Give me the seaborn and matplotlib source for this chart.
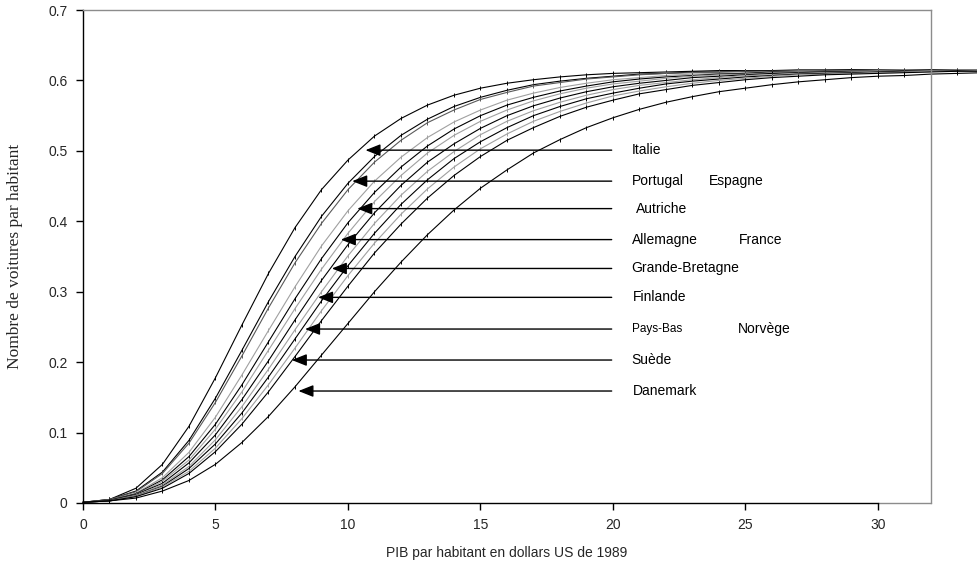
import matplotlib
matplotlib.use("Agg")
import matplotlib.pyplot as plt
import pandas as pd
import seaborn as sns

# PIB par habitant (milliers de dollars US de 1989)
pib = list(range(0, 35))

italie = [0.001, 0.005, 0.021, 0.055, 0.109, 0.178, 0.253, 0.326, 0.391, 0.445,
          0.487, 0.521, 0.546, 0.565, 0.579, 0.589, 0.596, 0.601, 0.605, 0.608,
          0.610, 0.611, 0.612, 0.613, 0.614, 0.614, 0.614, 0.615, 0.615, 0.615,
          0.615, 0.615, 0.615, 0.615, 0.615]
portugal = [0.001, 0.005, 0.017, 0.044, 0.089, 0.149, 0.217, 0.286, 0.350, 0.407,
            0.454, 0.492, 0.522, 0.545, 0.563, 0.576, 0.586, 0.594, 0.599, 0.603,
            0.606, 0.609, 0.610, 0.612, 0.612, 0.613, 0.614, 0.614, 0.614, 0.615,
            0.615, 0.615, 0.615, 0.615, 0.615]
espagne = [0.001, 0.005, 0.016, 0.042, 0.085, 0.143, 0.209, 0.277, 0.341, 0.397,
           0.445, 0.484, 0.515, 0.540, 0.558, 0.573, 0.583, 0.592, 0.597, 0.602,
           0.605, 0.608, 0.610, 0.611, 0.612, 0.613, 0.613, 0.614, 0.614, 0.614,
           0.615, 0.615, 0.615, 0.615, 0.615]
autriche = [0.001, 0.004, 0.014, 0.036, 0.072, 0.122, 0.182, 0.245, 0.307, 0.365,
            0.415, 0.457, 0.491, 0.519, 0.541, 0.558, 0.572, 0.582, 0.590, 0.596,
            0.601, 0.604, 0.607, 0.609, 0.610, 0.611, 0.612, 0.613, 0.613, 0.614,
            0.614, 0.615, 0.615, 0.615, 0.615]
allemagne = [0.001, 0.004, 0.013, 0.033, 0.066, 0.112, 0.168, 0.229, 0.290, 0.347,
             0.398, 0.441, 0.477, 0.507, 0.531, 0.550, 0.565, 0.576, 0.585, 0.592,
             0.598, 0.602, 0.605, 0.607, 0.609, 0.610, 0.612, 0.612, 0.613, 0.613,
             0.614, 0.614, 0.615, 0.615, 0.615]
france = [0.001, 0.004, 0.012, 0.031, 0.061, 0.105, 0.158, 0.217, 0.276, 0.332,
          0.383, 0.428, 0.465, 0.497, 0.522, 0.542, 0.558, 0.571, 0.581, 0.589,
          0.595, 0.599, 0.603, 0.606, 0.608, 0.609, 0.611, 0.612, 0.612, 0.613,
          0.614, 0.614, 0.614, 0.615, 0.615]
grande_bretagne = [0.001, 0.004, 0.012, 0.028, 0.057, 0.097, 0.147, 0.202, 0.260, 0.316,
                   0.367, 0.412, 0.451, 0.484, 0.510, 0.532, 0.550, 0.564, 0.575, 0.584,
                   0.591, 0.596, 0.600, 0.604, 0.606, 0.608, 0.610, 0.611, 0.612, 0.613,
                   0.613, 0.614, 0.614, 0.614, 0.614]
finlande = [0.001, 0.003, 0.011, 0.026, 0.052, 0.090, 0.137, 0.190, 0.246, 0.300,
            0.351, 0.397, 0.437, 0.471, 0.499, 0.523, 0.542, 0.557, 0.569, 0.579,
            0.587, 0.593, 0.597, 0.601, 0.604, 0.607, 0.608, 0.610, 0.611, 0.612,
            0.613, 0.613, 0.614, 0.614, 0.614]
pays_bas = [0.001, 0.003, 0.010, 0.024, 0.049, 0.084, 0.128, 0.179, 0.233, 0.287,
            0.337, 0.383, 0.424, 0.459, 0.489, 0.513, 0.533, 0.550, 0.563, 0.574,
            0.582, 0.589, 0.595, 0.599, 0.602, 0.605, 0.607, 0.609, 0.610, 0.611,
            0.612, 0.613, 0.613, 0.614, 0.614]
norvege = [0.001, 0.003, 0.010, 0.023, 0.045, 0.078, 0.120, 0.168, 0.220, 0.273,
           0.323, 0.369, 0.410, 0.446, 0.477, 0.503, 0.524, 0.542, 0.556, 0.568,
           0.578, 0.585, 0.591, 0.596, 0.600, 0.603, 0.606, 0.608, 0.609, 0.610,
           0.611, 0.612, 0.613, 0.613, 0.614]
suede = [0.001, 0.003, 0.009, 0.021, 0.042, 0.073, 0.112, 0.158, 0.208, 0.259,
         0.308, 0.355, 0.396, 0.433, 0.465, 0.492, 0.515, 0.533, 0.549, 0.562,
         0.572, 0.581, 0.587, 0.593, 0.597, 0.601, 0.604, 0.606, 0.608, 0.609,
         0.610, 0.611, 0.612, 0.613, 0.613]
danemark = [0.001, 0.003, 0.007, 0.017, 0.032, 0.055, 0.086, 0.123, 0.165, 0.210,
            0.255, 0.300, 0.342, 0.381, 0.416, 0.447, 0.473, 0.497, 0.516, 0.533,
            0.547, 0.559, 0.569, 0.577, 0.584, 0.589, 0.594, 0.598, 0.601, 0.604,
            0.606, 0.607, 0.609, 0.610, 0.611]

pays = ["Italie", "Portugal", "Espagne", "Autriche", "Allemagne", "France",
        "Grande-Bretagne", "Finlande", "Pays-Bas", "Norvège", "Suède", "Danemark"]
series = [italie, portugal, espagne, autriche, allemagne, france,
          grande_bretagne, finlande, pays_bas, norvege, suede, danemark]

couleurs = {
    "Italie": "#000000", "Portugal": "#000000", "Espagne": "#5a5a5a",
    "Autriche": "#a0a0a0", "Allemagne": "#000000", "France": "#a0a0a0",
    "Grande-Bretagne": "#000000", "Finlande": "#a0a0a0", "Pays-Bas": "#000000",
    "Norvège": "#a0a0a0", "Suède": "#000000", "Danemark": "#000000",
}

# Étiquettes : (texte, x du texte, y de la flèche, x de la pointe)
etiquettes = [
    ("Italie", 20.7, 0.501, 10.66),
    ("Portugal", 20.7, 0.457, 10.16),
    ("Autriche", 20.85, 0.418, 10.35),
    ("Allemagne", 20.7, 0.374, 9.73),
    ("Grande-Bretagne", 20.7, 0.333, 9.39),
    ("Finlande", 20.75, 0.292, 8.87),
    ("Pays-Bas", 20.7, 0.247, 8.38),
    ("Suède", 20.7, 0.203, 7.88),
    ("Danemark", 20.75, 0.159, 8.13),
]
etiquettes_seules = [
    ("Espagne", 23.6, 0.457),
    ("France", 24.75, 0.374),
    ("Norvège", 24.7, 0.247),
]

df = pd.concat(
    [pd.DataFrame({"pib": pib, "voitures": v, "pays": p}) for p, v in zip(pays, series)],
    ignore_index=True,
)

sns.set_style("white")
plt.rcParams["font.family"] = ["Liberation Sans", "DejaVu Sans"]

fig = plt.figure(figsize=(9.78, 5.65), dpi=100)
ax = fig.add_axes([83 / 978, 62 / 565, 848 / 978, 493 / 565])

for p in pays:
    c = couleurs[p]
    sns.lineplot(data=df[df["pays"] == p], x="pib", y="voitures", color=c,
                 ax=ax, linewidth=0.8, marker="|", markersize=3,
                 markeredgewidth=0.7, markeredgecolor=c, markerfacecolor=c,
                 clip_on=False)

for texte, xt, y, xpointe in etiquettes:
    ax.annotate("", xy=(xpointe, y), xytext=(19.95, y),
                arrowprops=dict(arrowstyle="-|>,head_length=0.75,head_width=0.3",
                                color="black", lw=1.0, mutation_scale=12,
                                shrinkA=0, shrinkB=0), zorder=5)
    taille = 8.5 if texte == "Pays-Bas" else 10
    ax.text(xt, y, texte, fontsize=taille, va="center", ha="left", color="black")
for texte, xt, y in etiquettes_seules:
    ax.text(xt, y, texte, fontsize=10, va="center", ha="left", color="black")

ax.set_xlim(0, 32)
ax.set_ylim(0, 0.7)
ax.set_xticks([0, 5, 10, 15, 20, 25, 30])
ax.set_xticklabels(["0", "5", "10", "15", "20", "25", "30"])
ax.set_yticks([0, 0.1, 0.2, 0.3, 0.4, 0.5, 0.6, 0.7])
ax.set_yticklabels(["0", "0.1", "0.2", "0.3", "0.4", "0.5", "0.6", "0.7"])
ax.tick_params(axis="both", direction="out", length=5, width=1, color="black",
               labelsize=10, pad=6, bottom=True, left=True)

for side in ["top", "right"]:
    ax.spines[side].set_color("#8c8c8c")
    ax.spines[side].set_linewidth(1.0)
for side in ["left", "bottom"]:
    ax.spines[side].set_color("black")
    ax.spines[side].set_linewidth(1.0)
ax.spines["bottom"].set_bounds(0, 30)
ax.plot([30, 32], [0, 0], color="#8c8c8c", lw=1.0, clip_on=False, zorder=0.5)

ax.set_xlabel("PIB par habitant en dollars US de 1989", fontsize=10, labelpad=10)
ax.set_ylabel("Nombre de voitures par habitant", fontsize=12.5,
              family=["Liberation Serif", "DejaVu Serif"], labelpad=18)
ax.grid(False)

fig.savefig("out.png", dpi=100)
